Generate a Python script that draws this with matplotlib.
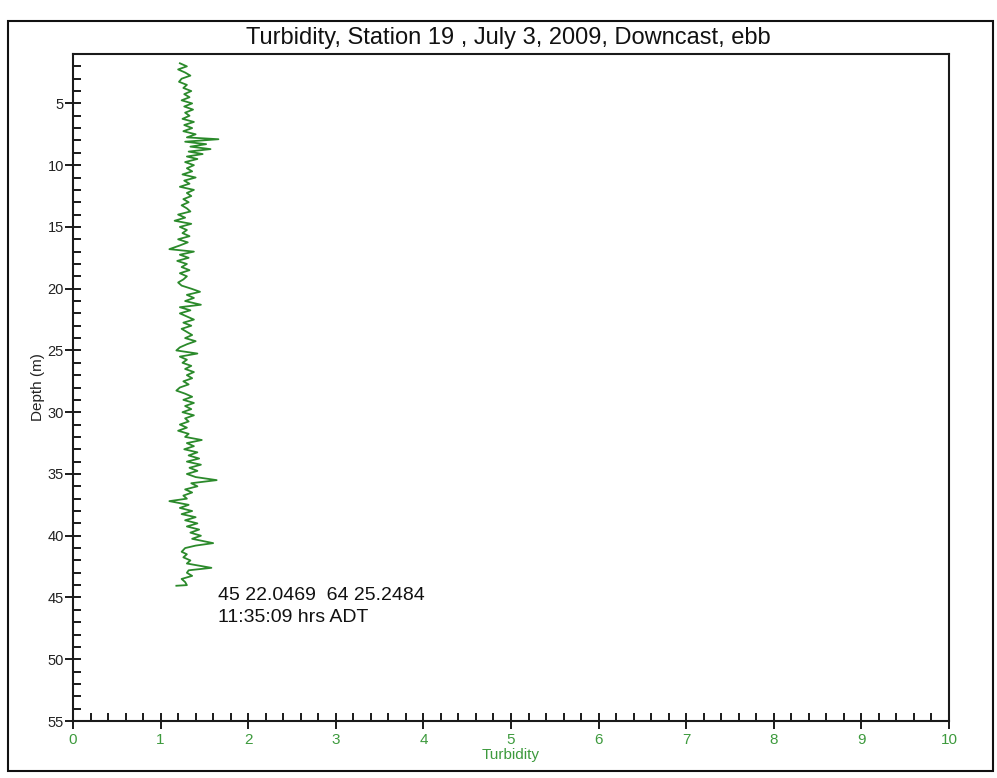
import matplotlib
matplotlib.use("Agg")
import matplotlib.pyplot as plt
from matplotlib.patches import Rectangle
from matplotlib.ticker import MultipleLocator

plt.rcParams['font.family'] = ['Liberation Sans', 'DejaVu Sans']

# CTD downcast profile: depth (m) and turbidity
depth = [1.75, 2.0, 2.25, 2.5, 2.75, 3.0, 3.25, 3.5, 3.75, 4.0, 4.25, 4.5, 4.75,
         5.0, 5.25, 5.5, 5.75, 6.0, 6.25, 6.5, 6.75, 7.0, 7.25, 7.5, 7.75, 7.9,
         8.1, 8.3, 8.5, 8.7, 8.9, 9.1, 9.3, 9.5, 9.75, 10.0, 10.25, 10.5, 10.75,
         11.0, 11.25, 11.5, 11.75, 12.0, 12.25, 12.5, 12.75, 13.0, 13.25, 13.5,
         13.75, 14.0, 14.25, 14.5, 14.75, 15.0, 15.25, 15.5, 15.75, 16.0, 16.25,
         16.5, 16.8, 17.0, 17.25, 17.5, 17.75, 18.0, 18.25, 18.5, 18.75, 19.0,
         19.25, 19.5, 19.75, 20.0, 20.25, 20.5, 20.75, 21.0, 21.3, 21.5, 21.75,
         22.0, 22.25, 22.5, 22.75, 23.0, 23.25, 23.5, 23.75, 24.0, 24.25, 24.5,
         24.75, 25.0, 25.25, 25.5, 25.75, 26.0, 26.25, 26.5, 26.75, 27.0, 27.25,
         27.5, 27.75, 28.0, 28.25, 28.5, 28.75, 29.0, 29.25, 29.5, 29.75, 30.0,
         30.25, 30.5, 30.75, 31.0, 31.25, 31.5, 31.75, 32.0, 32.25, 32.5, 32.75,
         33.0, 33.25, 33.5, 33.75, 34.0, 34.25, 34.5, 34.75, 35.0, 35.25, 35.5,
         35.75, 36.0, 36.25, 36.5, 36.75, 37.0, 37.2, 37.5, 37.75, 38.0, 38.25,
         38.5, 38.75, 39.0, 39.25, 39.5, 39.75, 40.0, 40.25, 40.6, 40.8, 41.0,
         41.3, 41.5, 41.75, 42.0, 42.25, 42.6, 42.8, 43.0, 43.25, 43.5, 43.75,
         44.0, 44.05]
turbidity = [1.22, 1.30, 1.20, 1.28, 1.34, 1.24, 1.21, 1.30, 1.26, 1.35, 1.27, 1.33, 1.24,
             1.36, 1.27, 1.37, 1.28, 1.33, 1.25, 1.38, 1.27, 1.36, 1.26, 1.40, 1.30, 1.66,
             1.28, 1.52, 1.34, 1.57, 1.32, 1.48, 1.30, 1.42, 1.28, 1.38, 1.30, 1.36, 1.25,
             1.40, 1.27, 1.33, 1.22, 1.38, 1.30, 1.35, 1.26, 1.32, 1.24, 1.30,
             1.34, 1.20, 1.28, 1.16, 1.35, 1.22, 1.30, 1.25, 1.33, 1.20, 1.31,
             1.22, 1.10, 1.38, 1.22, 1.32, 1.19, 1.30, 1.24, 1.33, 1.22, 1.30,
             1.26, 1.20, 1.24, 1.35, 1.45, 1.30, 1.38, 1.28, 1.46, 1.22, 1.34,
             1.22, 1.30, 1.38, 1.26, 1.35, 1.24, 1.30, 1.36, 1.28, 1.40, 1.30,
             1.22, 1.18, 1.42, 1.22, 1.30, 1.25, 1.35, 1.28, 1.38, 1.30, 1.36,
             1.26, 1.32, 1.22, 1.18, 1.28, 1.36, 1.26, 1.38, 1.28, 1.35, 1.25,
             1.38, 1.28, 1.32, 1.22, 1.30, 1.20, 1.32, 1.28, 1.47, 1.30, 1.38,
             1.27, 1.42, 1.32, 1.44, 1.30, 1.46, 1.33, 1.42, 1.30, 1.40, 1.64,
             1.35, 1.42, 1.28, 1.36, 1.26, 1.30, 1.10, 1.32, 1.22, 1.36, 1.24,
             1.40, 1.28, 1.42, 1.30, 1.44, 1.34, 1.46, 1.36, 1.60, 1.40, 1.28,
             1.24, 1.30, 1.26, 1.34, 1.30, 1.58, 1.32, 1.30, 1.36, 1.24, 1.28,
             1.30, 1.18]

title = "Turbidity, Station 19 , July 3, 2009, Downcast, ebb"
position_text = "45 22.0469  64 25.2484"
time_text = "11:35:09 hrs ADT"

W, H = 997, 778
fig = plt.figure(figsize=(W / 100, H / 100), dpi=100)
fig.patch.set_facecolor("white")

# outer border around the whole figure
fig.patches.append(Rectangle((8 / W, 1 - 771 / H), 985 / W, 750 / H,
                             transform=fig.transFigure, fill=False,
                             edgecolor="#111111", linewidth=1.5, zorder=0))

ax = fig.add_axes([73 / W, 1 - 721 / H, 876 / W, 667 / H])
ax.plot(turbidity, depth, color="#2b8a2b", linewidth=1.3)

ax.set_xlim(0, 10)
ax.set_ylim(55, 1)

ax.xaxis.set_major_locator(MultipleLocator(1))
ax.xaxis.set_minor_locator(MultipleLocator(0.2))
ax.yaxis.set_minor_locator(MultipleLocator(1))
ax.set_yticks([5, 10, 15, 20, 25, 30, 35, 40, 45, 50, 55])

for s in ax.spines.values():
    s.set_color("#1a1a1a")
    s.set_linewidth(1.5)

ax.tick_params(axis="both", which="major", direction="inout", length=12,
               width=1.4, color="#1a1a1a")
ax.tick_params(axis="both", which="minor", direction="in", length=5.8,
               width=1.4, color="#1a1a1a")
ax.tick_params(axis="x", which="major", labelsize=11, labelcolor="#3d9a3d", pad=3)
ax.tick_params(axis="y", which="major", labelsize=10.5, labelcolor="#222222", pad=0.5)

ax.set_xlabel("Turbidity", fontsize=11, color="#3d9a3d", labelpad=0)
ax.set_ylabel("Depth (m)", fontsize=11, color="#222222", labelpad=2)

fig.text(508 / W, 1 - 38 / H, title, ha="center", va="center",
         fontsize=17, color="#111111")

ax.text(1.655, 44.8, position_text, ha="left", va="center", fontsize=14,
        color="#111111")
ax.text(1.655, 46.6, time_text, ha="left", va="center", fontsize=14,
        color="#111111")

fig.savefig("out.png", dpi=100, facecolor="white")
